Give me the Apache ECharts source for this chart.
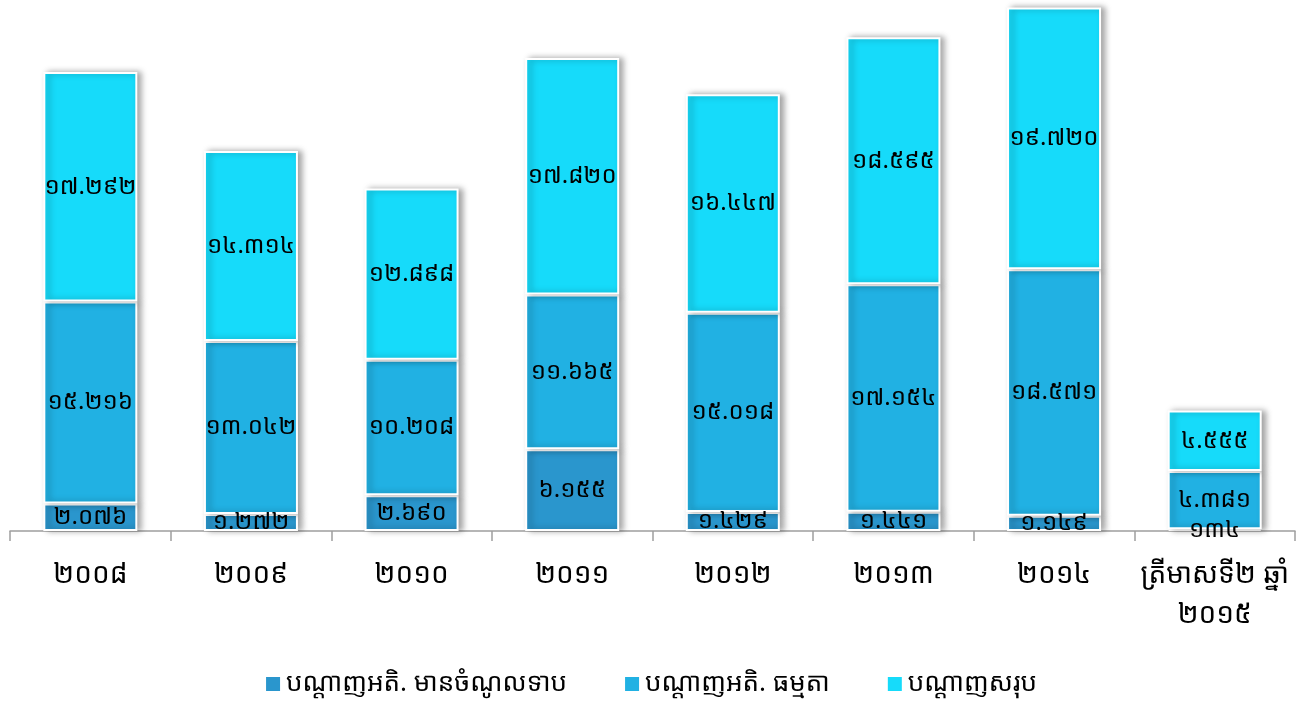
<!DOCTYPE html>
<html>
<head>
<meta charset="utf-8">
<script src="https://cdn.jsdelivr.net/npm/echarts@6/dist/echarts.min.js"></script>
<style>
html,body{margin:0;padding:0;background:#fff;}
#c{width:1301px;height:708px;}
</style>
</head>
<body>
<div id="c"></div>
<script>
const categories = ['២០០៨','២០០៩','២០១០','២០១១','២០១២','២០១៣','២០១៤','ត្រីមាសទី២ ឆ្នាំ\n២០១៥'];
const seriesNames = ['បណ្តាញអតិ. មានចំណូលទាប','បណ្តាញអតិ. ធម្មតា','បណ្តាញសរុប'];
const lowIncome = [2076, 1272, 2690, 6155, 1429, 1441, 1149, 134];
const regular = [15216, 13042, 10208, 11665, 15018, 17154, 18571, 4381];
const total = [17292, 14314, 12898, 17820, 16447, 18595, 19720, 4555];
const colors = ['#2A96CD','#21B1E3','#16DBFA'];

const FONT = '"Noto Sans Khmer","Khmer OS","Khmer OS System","Noto Sans","DejaVu Sans",sans-serif';
const khDigits = ['០','១','២','៣','៤','៥','៦','៧','៨','៩'];
function toKhmer(n){
  const s = String(n).replace(/\B(?=(\d{3})+(?!\d))/g,'.');
  return s.replace(/\d/g, d => khDigits[+d]);
}

const chart = echarts.init(document.getElementById('c'), null, {renderer:'canvas'});
const dataSets = [lowIncome, regular, total];
chart.setOption({
  animation:false,
  backgroundColor:'#fff',
  grid:{left:10, right:6, top:0, bottom:177, containLabel:false},
  legend:{
    bottom:6, left:'center',
    itemWidth:16, itemHeight:16, itemGap:56, icon:'rect',
    textStyle:{fontFamily:FONT, fontSize:26, color:'#000'},
    data:seriesNames
  },
  xAxis:{
    type:'category', data:categories,
    axisLine:{lineStyle:{color:'#9e9e9e', width:1.5}},
    axisTick:{show:true, length:10, lineStyle:{color:'#9e9e9e', width:1.5}, alignWithLabel:false},
    axisLabel:{fontFamily:FONT, fontSize:28, color:'#000', margin:24, lineHeight:40, interval:0}
  },
  yAxis:{type:'value', min:0, max:40000, show:false, splitLine:{show:false}},
  series: dataSets.map((arr,i)=>({
    name:seriesNames[i], type:'bar', stack:'s', barWidth:94,
    data:arr,
    itemStyle:{color:colors[i], borderColor:'#fff', borderWidth:2,
      shadowBlur:6, shadowOffsetX:4, shadowOffsetY:0, shadowColor:'rgba(0,0,0,0.35)'},
    label:{show:true, position:'inside', fontFamily:FONT, fontSize:24, color:'#000',
      formatter:p=>toKhmer(p.value)}
  }))
});
</script>
</body>
</html>
